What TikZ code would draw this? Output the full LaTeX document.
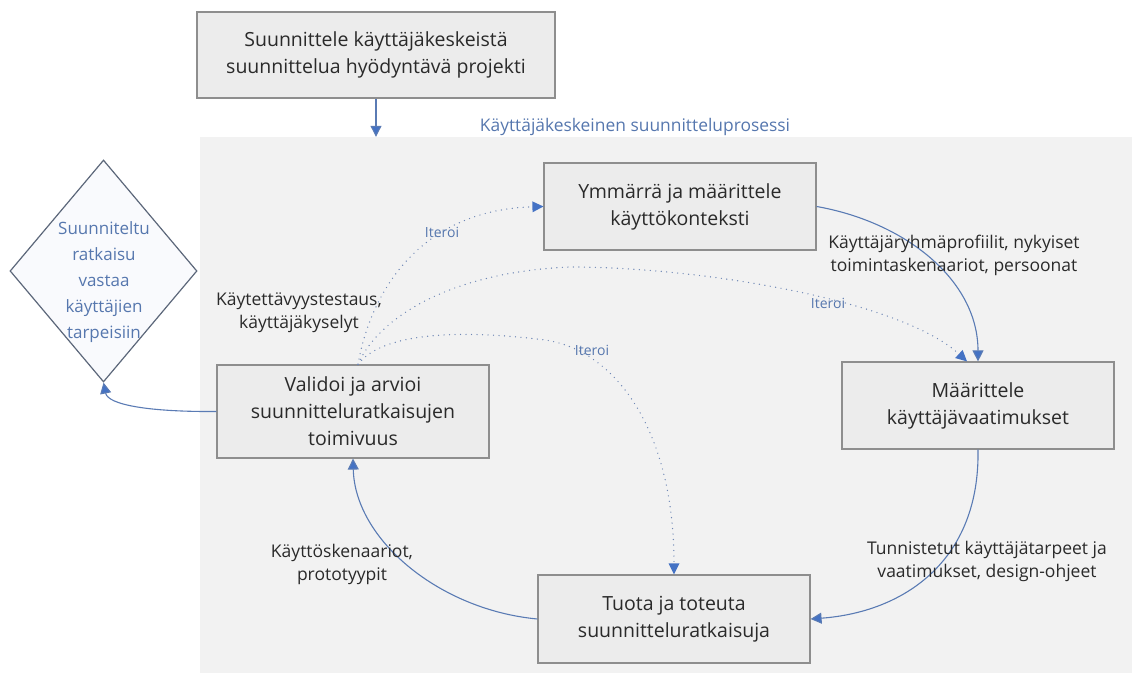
\documentclass[tikz,border=0pt]{standalone}
\usepackage{fontspec}
\setmainfont{Open Sans}
\usetikzlibrary{shapes.geometric,arrows.meta}

\definecolor{panelfill}{HTML}{F2F2F2}
\definecolor{boxfill}{HTML}{ECECEC}
\definecolor{boxline}{HTML}{8E8E8E}
\definecolor{ink}{HTML}{2A2A2A}
\definecolor{flowline}{HTML}{5A7BB4}
\definecolor{tipfill}{HTML}{4472C4}
\definecolor{dotline}{HTML}{6F87B5}
\definecolor{bluetext}{HTML}{5677AE}
\definecolor{goalline}{HTML}{5C677A}
\definecolor{goalfill}{HTML}{F9FAFD}

\begin{document}
\begin{tikzpicture}[x=1pt,y=-1pt,
  stepbox/.style={draw=boxline, fill=boxfill, line width=1.2pt, align=center,
    text=ink, inner sep=0pt, font=\fontsize{19.5}{27}\selectfont},
  note/.style={align=center, text=ink, inner sep=0pt, font=\fontsize{17.5}{23}\selectfont},
  iter/.style={text=bluetext, inner sep=0pt, font=\fontsize{14}{16}\selectfont},
  tip/.style={-{Triangle[length=11pt,width=11pt,fill=tipfill]}},
  flow/.style={draw=flowline, line width=1.1pt, tip},
  loop/.style={draw=dotline, line width=1.4pt, line cap=round,
    dash pattern=on 0pt off 5.5pt, -{Triangle[length=11pt,width=11pt,fill=tipfill,line width=0pt]}},
]
\useasboundingbox (0,0) rectangle (1136,684);

% process area
\node[fill=panelfill, minimum width=932, minimum height=536, inner sep=0pt] (proc) at (666,405) {};
\node[text=bluetext, inner sep=0pt, font=\fontsize{17.4}{20}\selectfont] (title) at (635,127)
  {Käyttäjäkeskeinen suunnitteluprosessi};

% steps
\node[stepbox, minimum width=358, minimum height=86] (plan) at (376,55)
  {Suunnittele käyttäjäkeskeistä\\suunnittelua hyödyntävä projekti};
\node[stepbox, minimum width=272, minimum height=87] (ymm) at (680,206.5)
  {Ymmärrä ja määrittele\\käyttökonteksti};
\node[stepbox, minimum width=272, minimum height=87] (maar) at (978,405.5)
  {Määrittele\\käyttäjävaatimukset};
\node[stepbox, minimum width=272, minimum height=93] (valid) at (353,411.5)
  {Validoi ja arvioi\\suunnitteluratkaisujen\\toimivuus};
\node[stepbox, minimum width=272, minimum height=88] (tuota) at (674,619)
  {Tuota ja toteuta\\suunnitteluratkaisuja};

% goal
\node[diamond, draw=goalline, fill=goalfill, line width=1.2pt,
  minimum width=187, minimum height=222, inner sep=0pt] (goal) at (103.5,271) {};
\node[align=center, text=bluetext, inner sep=0pt, font=\fontsize{17}{25.8}\selectfont]
  (goaltext) at (104,282) {Suunniteltu\\ratkaisu\\vastaa\\käyttäjien\\tarpeisiin};

% main cycle
\draw[flow] (plan.south) -- (plan.south |- proc.north);
\draw[flow] (ymm.east) .. controls (905,222) and (978,280) .. (maar.north);
\draw[flow] (maar.south) .. controls (980,560) and (905,612) .. (tuota.east);
\draw[flow] (tuota.west) .. controls (440,610) and (355,540) .. (valid.south);
\draw[flow] (valid.west) .. controls (150,412) and (108,405) .. (goal.south);

% iteration loops
\coordinate (fork) at ([xshift=5pt]valid.north);
\draw[loop] (fork) .. controls (372,285) and (425,210) .. (ymm.west);
\draw[loop] (fork) .. controls (378,318) and (450,272) .. (570,267)
  .. controls (700,267) and (900,300) .. ([xshift=-11pt]maar.north);
\draw[loop] (fork) .. controls (380,335) and (450,328) .. (545,340)
  .. controls (615,350) and (674,430) .. (tuota.north);

% labels
\node[note] (lblA) at (954,255) {Käyttäjäryhmäprofiilit, nykyiset\\toimintaskenaariot, persoonat};
\node[note] (lblB) at (987,561) {Tunnistetut käyttäjätarpeet ja\\vaatimukset, design-ohjeet};
\node[note] (lblC) at (342,564) {Käyttöskenaariot,\\prototyypit};
\node[note] (lblD) at (299,313) {Käytettävyystestaus,\\käyttäjäkyselyt};
\node[iter] (it1) at (442,232) {Iteroi};
\node[iter] (it2) at (828,303) {Iteroi};
\node[iter] (it3) at (592,350) {Iteroi};
\end{tikzpicture}
\end{document}
